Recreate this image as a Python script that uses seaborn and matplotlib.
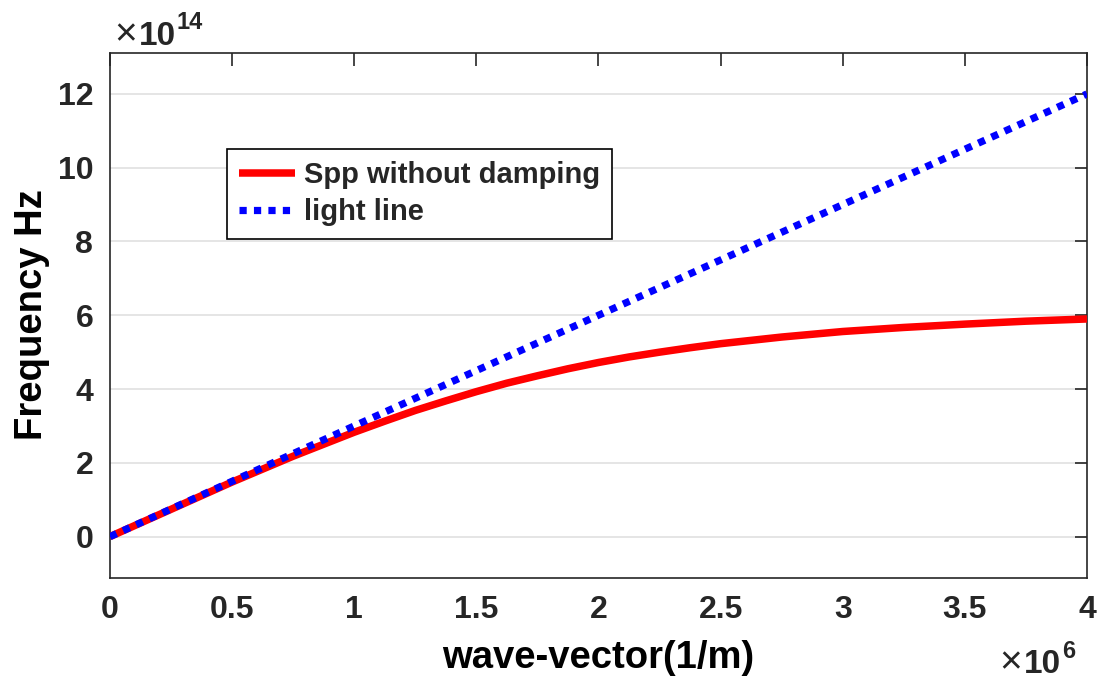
import matplotlib
matplotlib.use("Agg")
import matplotlib.pyplot as plt
import seaborn as sns
import pandas as pd

# wave-vector in units of 1e6 1/m, frequency in units of 1e14 Hz
spp_k = [0, 0.25, 0.5, 0.75, 1.0, 1.125, 1.25, 1.375, 1.5, 1.625, 1.75,
         1.875, 2.0, 2.125, 2.25, 2.375, 2.5, 2.75, 3.0, 3.25, 3.5, 3.75, 4.0]
spp_freq = [0, 0.74, 1.48, 2.18, 2.83, 3.13, 3.42, 3.68, 3.93, 4.16, 4.36,
            4.55, 4.72, 4.87, 5.00, 5.12, 5.23, 5.41, 5.56, 5.67, 5.76, 5.84, 5.90]
light_k = [0, 1.0, 2.0, 3.0, 4.0]
light_freq = [0, 3.0, 6.0, 9.0, 12.0]

x_ticks = [0, 0.5, 1, 1.5, 2, 2.5, 3, 3.5, 4]
x_tick_labels = ["0", "0.5", "1", "1.5", "2", "2.5", "3", "3.5", "4"]
y_ticks = [0, 2, 4, 6, 8, 10, 12]
y_tick_labels = ["0", "2", "4", "6", "8", "10", "12"]

sns.set_theme(style="white")
plt.rcParams["font.family"] = ["Liberation Sans", "DejaVu Sans"]
plt.rcParams["font.weight"] = "bold"

df_spp = pd.DataFrame({"k": spp_k, "w": spp_freq})
df_light = pd.DataFrame({"k": light_k, "w": light_freq})

fig = plt.figure(figsize=(11.04, 6.87), dpi=100)
ax = fig.add_axes([0.0996, 0.1582, 0.8850, 0.7647])

axis_gray = "#262626"

sns.lineplot(data=df_spp, x="k", y="w", ax=ax, color="#ff0000",
             linewidth=5.4, label="Spp without damping", zorder=3,
             solid_capstyle="butt")
sns.lineplot(data=df_light, x="k", y="w", ax=ax, color="#0000ff",
             linewidth=5.2, linestyle=(0, (1, 1)), label="light line",
             zorder=4, dash_capstyle="butt")

ax.set_xlim(0, 4)
ax.set_ylim(-1.13, 13.11)
ax.set_xticks(x_ticks)
ax.set_xticklabels(x_tick_labels)
ax.set_yticks(y_ticks)
ax.set_yticklabels(y_tick_labels)

ax.yaxis.grid(True, color="#e3e3e3", linewidth=1.3)
ax.xaxis.grid(False)
ax.set_axisbelow(True)

for side in ["left", "right", "top", "bottom"]:
    ax.spines[side].set_visible(True)
    ax.spines[side].set_color(axis_gray)
    ax.spines[side].set_linewidth(1.2)

ax.tick_params(axis="both", which="major", direction="in", length=9,
               width=1.2, color=axis_gray, labelsize=23,
               labelcolor=axis_gray, top=True, right=True, pad=12)
for lbl in ax.get_xticklabels() + ax.get_yticklabels():
    lbl.set_fontweight("bold")

ax.set_xlabel("wave-vector(1/m)", fontsize=27.5, fontweight="bold",
              color="black")
ax.set_ylabel("Frequency Hz", fontsize=27.5, fontweight="bold",
              color="black")
ax.xaxis.set_label_coords(0.4995, -0.152)
ax.xaxis.label.set_va("center")
ax.yaxis.set_label_coords(-0.0798, 0.5015)
ax.yaxis.label.set_va("center")
ax.yaxis.label.set_ha("center")

leg = ax.legend(loc="upper left", bbox_to_anchor=(0.12, 0.818),
                fontsize=21, frameon=True, fancybox=False,
                handlelength=1.9, handletextpad=0.3, borderpad=0.42,
                labelspacing=0.33, borderaxespad=0)
leg.get_frame().set_edgecolor("black")
leg.get_frame().set_linewidth(1.2)
leg.get_frame().set_alpha(1)
for t in leg.get_texts():
    t.set_fontweight("bold")

# scale factors for the axes
fig.text(137 / 1104, 1 - 45 / 687, "\u00d7", fontsize=28, color=axis_gray,
         fontweight="normal", ha="right", va="baseline")
fig.text(139 / 1104, 1 - 45 / 687, "10", fontsize=24, color=axis_gray,
         fontweight="bold", ha="left", va="baseline")
fig.text(177 / 1104, 1 - 29 / 687, "14", fontsize=17, color=axis_gray,
         fontweight="bold", ha="left", va="baseline")

fig.text(1022 / 1104, 1 - 673 / 687, "\u00d7", fontsize=28, color=axis_gray,
         fontweight="normal", ha="right", va="baseline")
fig.text(1024 / 1104, 1 - 673 / 687, "10", fontsize=24, color=axis_gray,
         fontweight="bold", ha="left", va="baseline")
fig.text(1062 / 1104, 1 - 658 / 687, "6", fontsize=17, color=axis_gray,
         fontweight="bold", ha="left", va="baseline")

fig.savefig("out.png", dpi=100)
